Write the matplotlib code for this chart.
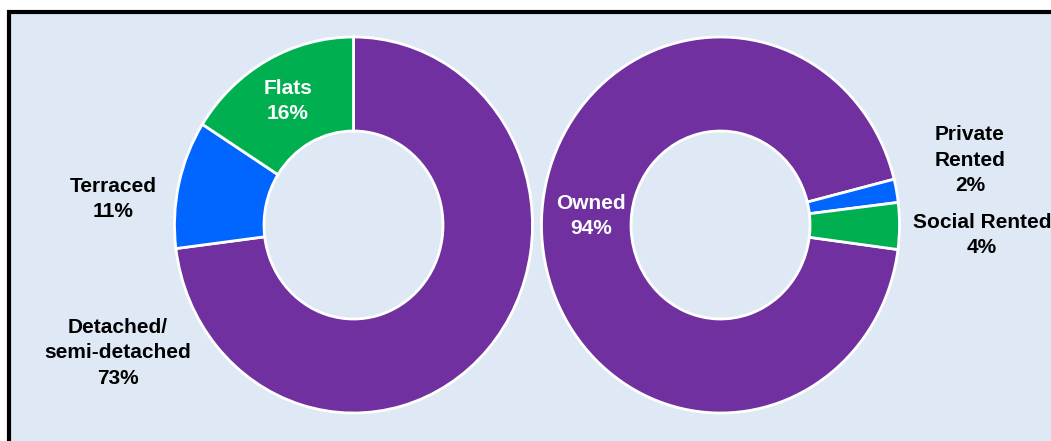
import matplotlib
matplotlib.use("Agg")
import matplotlib.pyplot as plt
from matplotlib.patches import Rectangle

# Data
dwelling_labels = ["Detached/\nsemi-detached", "Terraced", "Flats"]
dwelling_values = [73, 11, 16]
tenure_labels = ["Owned", "Private\nRented", "Social Rented"]
tenure_values = [94, 2, 4]

PURPLE = "#7030A0"
BLUE = "#0066FF"
GREEN = "#00B050"
BG = "#DEE9F5"

W, H = 1051, 441
fig = plt.figure(figsize=(W / 100, H / 100), dpi=100)
fig.patch.set_facecolor("white")

# background box with black border (right/bottom edges lie outside the image)
fig.patches.append(Rectangle((9 / W, -0.1), 1.2, (H - 12) / H + 0.1,
                             transform=fig.transFigure, facecolor=BG,
                             edgecolor="black", linewidth=3, zorder=-5))

def px_axes(cx, cy, rx, ry):
    return fig.add_axes([(cx - rx) / W, (H - cy - ry) / H, 2 * rx / W, 2 * ry / H])

wp = dict(width=0.5, edgecolor="white", linewidth=2)

ax1 = px_axes(353.5, 225, 179, 188)
ax1.pie(dwelling_values, colors=[PURPLE, BLUE, GREEN], startangle=90,
        counterclock=False, wedgeprops=wp)
ax2 = px_axes(720.5, 225, 179, 188)
ax2.pie(tenure_values, colors=[PURPLE, BLUE, GREEN], startangle=-7.5,
        counterclock=False, wedgeprops=wp)
for ax in (ax1, ax2):
    ax.set_aspect("auto")
    ax.set_xlim(-1, 1)
    ax.set_ylim(-1, 1)
    ax.axis("off")
    ax.patch.set_alpha(0)
    ax.set_zorder(1)

font = dict(family=["Liberation Sans", "DejaVu Sans"], fontweight="bold",
            fontsize=15, ha="center", va="center", linespacing=1.44)

def label(x, y, name, val, color="black"):
    fig.text(x / W, 1 - y / H, f"{name}\n{val}%", color=color, zorder=5, **font)

label(288, 101, dwelling_labels[2], dwelling_values[2], "white")
label(113, 199, dwelling_labels[1], dwelling_values[1])
label(118, 353, dwelling_labels[0], dwelling_values[0])
label(591, 216, tenure_labels[0], tenure_values[0], "white")
label(970, 160, tenure_labels[1], tenure_values[1])
label(982, 235, tenure_labels[2], tenure_values[2])

fig.savefig("out.png", dpi=100)
